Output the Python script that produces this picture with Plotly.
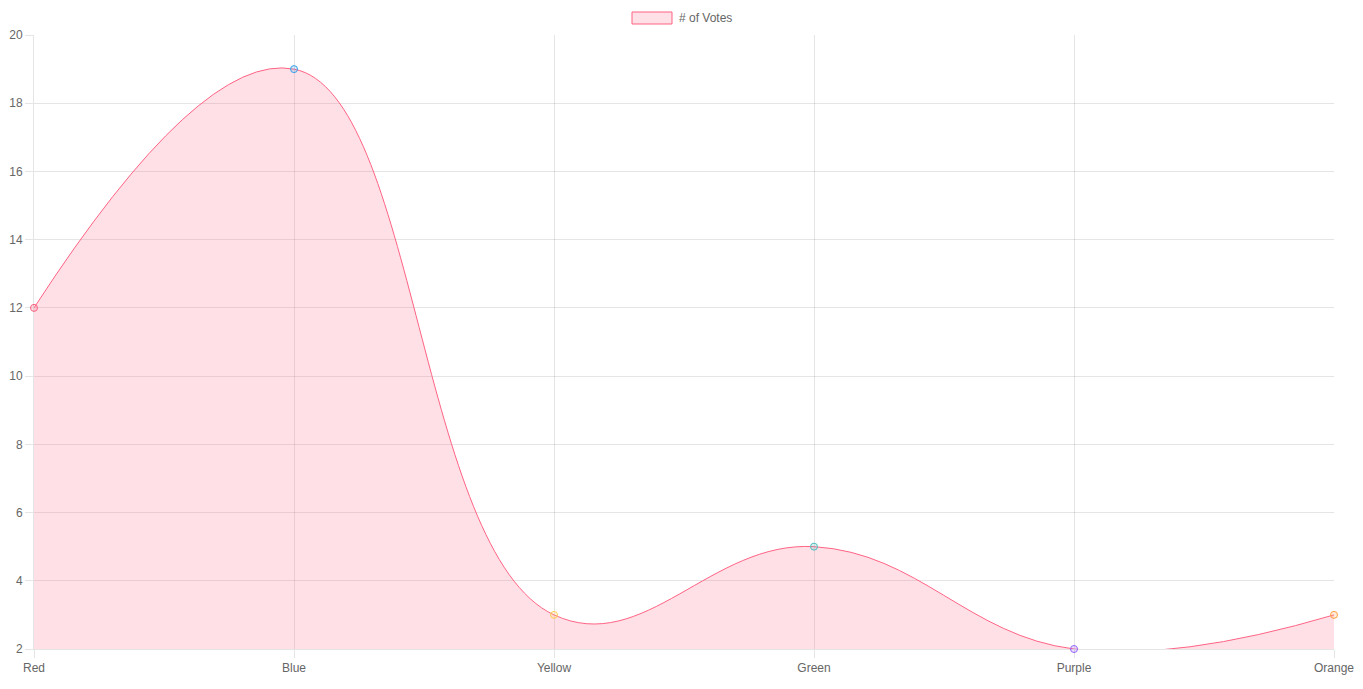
import plotly.graph_objects as go

categories = ["Red", "Blue", "Yellow", "Green", "Purple", "Orange"]
votes = [12, 19, 3, 5, 2, 3]
point_border = [
    "rgba(255,99,132,1)", "rgba(54,162,235,1)", "rgba(255,206,86,1)",
    "rgba(75,192,192,1)", "rgba(153,102,255,1)", "rgba(255,159,64,1)",
]
point_fill = [
    "rgba(255,99,132,0.2)", "rgba(54,162,235,0.2)", "rgba(255,206,86,0.2)",
    "rgba(75,192,192,0.2)", "rgba(153,102,255,0.2)", "rgba(255,159,64,0.2)",
]
y_ticks = [2, 4, 6, 8, 10, 12, 14, 16, 18, 20]
series_name = "# of Votes"

FONT = "Liberation Sans, Arial, Helvetica, sans-serif"
GRID = "rgba(0,0,0,0.1)"

fig = go.Figure()
fig.add_trace(go.Scatter(
    x=categories, y=votes, mode="lines", name=series_name,
    line=dict(color="rgba(255,99,132,1)", width=1, shape="spline", smoothing=1.2),
    fill="tozeroy", fillcolor="rgba(255,99,132,0.2)",
    showlegend=False, hoverinfo="skip",
))
fig.add_trace(go.Scatter(
    x=categories, y=votes, mode="markers", name=series_name,
    marker=dict(size=7, color=point_fill, line=dict(color=point_border, width=1)),
    cliponaxis=False, showlegend=False,
))

# legend drawn like Chart.js
fig.add_shape(type="rect", xref="paper", yref="paper",
              x0=(632 - 34) / 1300, x1=(672 - 34) / 1300,
              y0=1 + (35 - 24) / 614, y1=1 + (35 - 12) / 614,
              line=dict(color="rgba(255,99,132,1)", width=1),
              fillcolor="rgba(255,99,132,0.2)")
fig.add_annotation(xref="paper", yref="paper",
                   x=(677 - 34) / 1300, y=1 + (35 - 18) / 614,
                   xanchor="left", yanchor="middle", showarrow=False,
                   text=series_name, font=dict(family=FONT, size=12, color="#666"))

fig.update_layout(
    width=1363, height=689,
    margin=dict(l=34, r=29, t=35, b=40, autoexpand=False),
    paper_bgcolor="white", plot_bgcolor="white",
    font=dict(family=FONT, size=12, color="#666"),
    showlegend=False,
)
fig.update_xaxes(
    type="category", range=[0, len(categories) - 1], automargin=False,
    showgrid=True, gridcolor=GRID, gridwidth=1,
    showline=True, linecolor=GRID, linewidth=1, mirror=False,
    ticks="outside", ticklen=8, tickcolor=GRID, tickwidth=1,
    tickfont=dict(family=FONT, size=12, color="#666"),
    zeroline=False,
)
fig.update_yaxes(
    range=[2, 20], tickvals=y_ticks, ticktext=[str(v) for v in y_ticks],
    automargin=False,
    showgrid=True, gridcolor=GRID, gridwidth=1,
    showline=True, linecolor=GRID, linewidth=1,
    ticks="outside", ticklen=8, tickcolor=GRID, tickwidth=1,
    tickfont=dict(family=FONT, size=12, color="#666"),
    zeroline=False,
)

fig.write_html(
    "out.html",
    config={"displayModeBar": False},
    post_script="document.body.style.margin='0';document.body.style.overflow='hidden';",
)
